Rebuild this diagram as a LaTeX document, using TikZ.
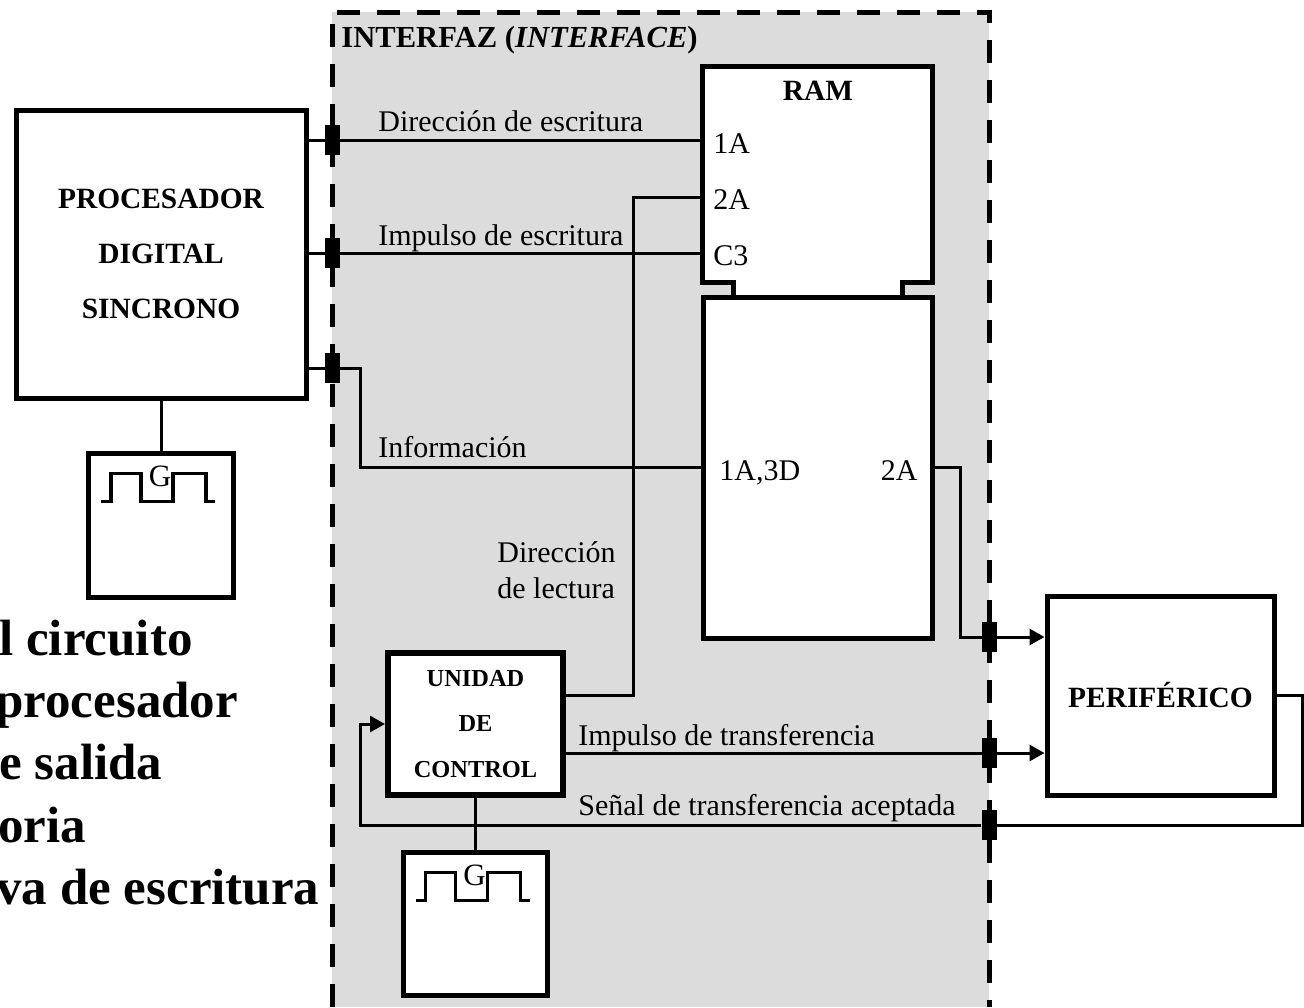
\documentclass[tikz,border=0pt]{standalone}
\usepackage{fontspec}
\setmainfont{Liberation Serif}
\usetikzlibrary{arrows.meta}
\definecolor{ifgray}{RGB}{220,220,220}
% square wave with the letter G inside a clock box
\newcommand{\genwave}[1]{%
  \draw[line width=1.75pt] ([shift={(15,51)}]#1.north west) -- ++(10,0) -- ++(0,-28) -- ++(30,0) -- ++(0,28)
    -- ++(32,0) -- ++(0,-28) -- ++(33,0) -- ++(0,28) -- ++(9,0);
  \node[inner sep=0, font=\fontsize{15.5}{18}\selectfont] (#1g) at ([shift={(74,26)}]#1.north west) {G};}
\begin{document}
\begin{tikzpicture}[x=0.5pt, y=-0.5pt, >={Triangle[length=7.5pt,width=8pt]},
  box/.style={draw, line width=2.5pt, fill=white, inner sep=0, align=center},
  blk/.style={fill=black, minimum width=7.5pt, minimum height=15pt, inner sep=0},
  wire/.style={line width=1.5pt},
  lbl/.style={anchor=base west, inner sep=0, font=\fontsize{15}{18}\selectfont},
  big/.style={anchor=base west, inner sep=0, font=\bfseries\fontsize{25.5}{31}\selectfont}]
\useasboundingbox (0,0) rectangle (1304,1007);
% interface area
\fill[ifgray] (332,12) rectangle (989,1007);
\draw[line width=2.5pt, dash pattern=on 11.5pt off 8.5pt] (332,1007) -- (332,12) -- (989,12) -- (989,1007);
\node[anchor=base west, inner sep=0, font=\bfseries\fontsize{15.3}{18}\selectfont] (title) at (341,47) {INTERFAZ (\textit{INTERFACE})};

% cut caption on the left
\node[big] (c1) at (-1,655) {l circuito};
\node[big] (c2) at (-5,717) {procesador};
\node[big] (c3) at (-1,779) {e salida};
\node[big] (c4) at (-2,842) {oria};
\node[big] (c5) at (-4,904) {va de escritura};

% blocks
\node[box, minimum width=145pt, minimum height=144pt, font=\bfseries\fontsize{14.7}{27.5}\selectfont] (proc) at (161,254) {PROCESADOR\\DIGITAL\\SINCRONO};
\node[box, minimum width=72.5pt, minimum height=72pt] (clk1) at (161,525) {};
\node[box, line width=3pt, minimum width=87.5pt, minimum height=71pt, font=\bfseries\fontsize{12.2}{22.7}\selectfont] (cu) at (475.5,724) {UNIDAD\\DE\\CONTROL};
\node[box, minimum width=72pt, minimum height=71.5pt] (clk2) at (475,923.5) {};
\node[inner sep=0, minimum width=114.5pt, minimum height=107.5pt] (ram) at (817.5,174.5) {};
\draw[line width=2.5pt, fill=white] (ram.south west) -- (ram.north west) -- (ram.north east) -- (ram.south east)
  -- ++(-30,0) -- ++(0,15) -- ++(-169,0) -- ++(0,-15) -- cycle;
\node[box, minimum width=114.5pt, minimum height=170.5pt] (mem) at (817.5,467.5) {};
\node[box, minimum width=113.5pt, minimum height=99.5pt, font=\bfseries\fontsize{14.7}{18}\selectfont] (per) at (1160.5,695.5) {PERIFÉRICO};
\genwave{clk1}
\genwave{clk2}

% RAM labels
\node[inner sep=0, font=\bfseries\fontsize{14.7}{18}\selectfont] (ramname) at (818,91) {RAM};
\node[lbl] (a1) at (713,153) {1A};
\node[lbl] (a2) at (713,209) {2A};
\node[lbl] (a3) at (713,265) {C3};
\node[lbl] (d1) at (719,480) {1A,3D};
\node[lbl, anchor=base east] (d2) at (918,480) {2A};
\coordinate (p2a) at (703,197);

% junction blocks on the interface border
\node[blk] (jw) at (332,140) {};
\node[blk] (jp) at (332,253) {};
\node[blk] (ji) at (332,368) {};
\node[blk] (jo) at (989,637) {};
\node[blk] (jt) at (989,753) {};
\node[blk] (ja) at (989,825) {};

% connections
\draw[wire] (proc.east |- jw) -- (ram.west |- jw);
\draw[wire] (proc.east |- jp) -- (ram.west |- jp);
\draw[wire] (proc.east |- ji) -- ++(52,0) |- (mem.west);
\draw[wire] ([yshift=14.5pt]cu.east) -- ++(67,0) |- (p2a);
\draw[wire, ->] ([yshift=-14.5pt]cu.east) -- (per.west |- jt);
\draw[wire, ->] (mem.east) -- ++(26,0) |- (per.west |- jo);
\draw[wire, ->] (per.east) -- ++(26,0) |- (ja) -| ([xshift=-12.5pt]cu.west) -- (cu.west);
\draw[wire] (proc.south) -- (clk1.north);
\draw[wire] (cu.south) -- (cu.south |- clk2.north);
\foreach \j in {jw,jp,ji,jo,jt,ja} \node[blk] at (\j) {};

% signal names
\node[lbl] (lw) at (378,131) {Dirección de escritura};
\node[lbl] (lp) at (378,245) {Impulso de escritura};
\node[lbl] (li) at (378,457) {Información};
\node[lbl] (lr1) at (497,562) {Dirección};
\node[lbl] (lr2) at (497,598) {de lectura};
\node[lbl] (lt) at (578,745) {Impulso de transferencia};
\node[lbl] (la) at (578,815) {Señal de transferencia aceptada};
\end{tikzpicture}
\end{document}
